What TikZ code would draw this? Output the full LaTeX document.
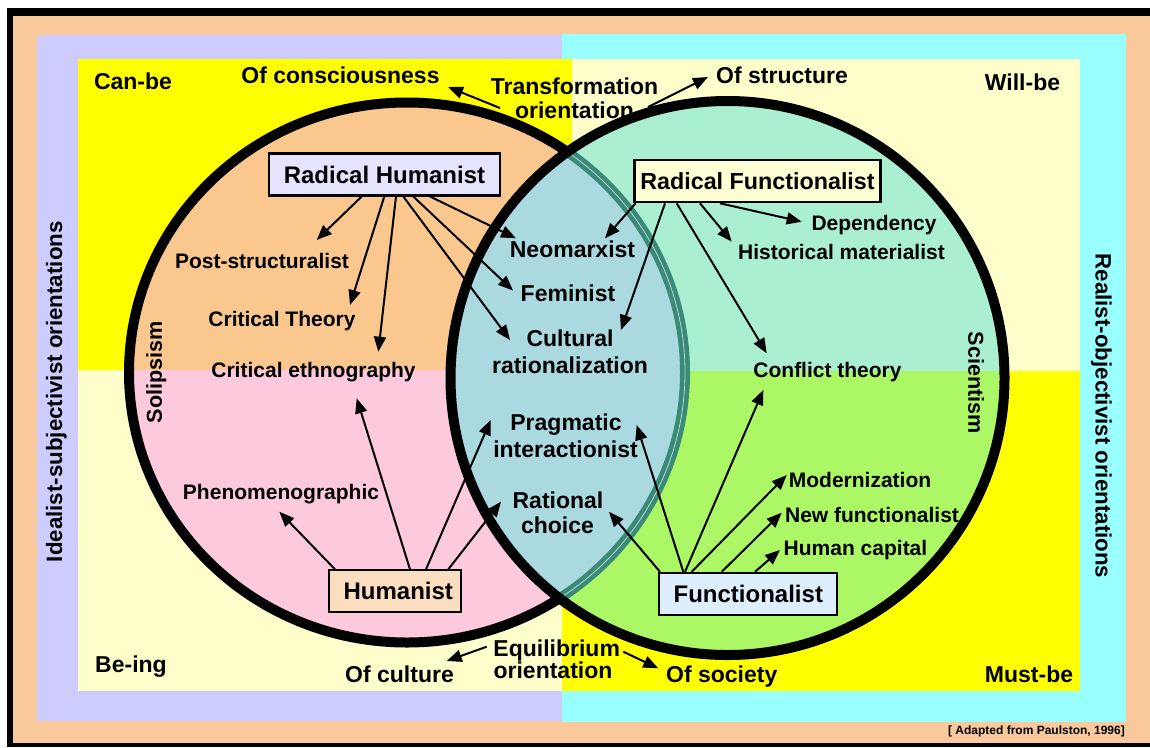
\documentclass[tikz,border=0pt]{standalone}
\usepackage{fontspec}
\setmainfont{Liberation Sans}
\usetikzlibrary{arrows.meta,calc}
\definecolor{peachbg}{HTML}{F9C99B}
\definecolor{lav}{HTML}{CCCCFF}
\definecolor{cyanbg}{HTML}{99FFFF}
\definecolor{yel}{HTML}{FFFF00}
\definecolor{cream}{HTML}{FFFFCC}
\definecolor{peachc}{HTML}{FAC88F}
\definecolor{pinkc}{HTML}{FDC9DD}
\definecolor{mintc}{HTML}{AAF0D0}
\definecolor{limec}{HTML}{ABF766}
\definecolor{overlapc}{HTML}{AAD9DF}
\definecolor{tealc}{HTML}{3A8A78}
\definecolor{rhfill}{HTML}{E6E3FF}
\definecolor{rffill}{HTML}{FFFFD6}
\definecolor{hfill}{HTML}{FBDDC0}
\definecolor{ffill}{HTML}{DDEEFF}
\begin{document}
\begin{tikzpicture}[x=1pt,y=-1pt,
  lbl/.style={font=\fontsize{21}{24}\selectfont\bfseries, inner sep=0pt, text height=15pt, text depth=0pt},
  lblc/.style={font=\fontsize{23}{26}\selectfont\bfseries, inner sep=0pt, text height=16.5pt, text depth=0pt},
  sidelbl/.style={font=\fontsize{22.3}{25}\selectfont\bfseries, inner sep=0pt, text height=16pt, text depth=0pt},
  vlbl/.style={font=\fontsize{21.6}{24}\selectfont\bfseries, inner sep=0pt, text height=15.5pt, text depth=0pt},
  boxnode/.style={draw, line width=2.2pt, inner sep=0pt, minimum height=42pt, font=\fontsize{24}{26}\selectfont\bfseries, text height=17.2pt, text depth=0pt},
  arr/.style={line width=2pt, -{Triangle[length=15pt,width=12pt]}},
  rim/.style={line width=10pt}]
\useasboundingbox (0,0) rectangle (1150,747);
% frame and background
\fill[black] (6.7,8.3) rectangle (1150,747);
\fill[peachbg] (13.3,16) rectangle (1150,742.5);
\fill[lav] (37,35) rectangle (562,721);
\fill[cyanbg] (562,34) rectangle (1126,722);
\fill[yel] (78,59) rectangle (572,370);
\fill[cream] (572,59) rectangle (1080,371);
\fill[cream] (78,370) rectangle (562,691);
\fill[yel] (562,371) rectangle (1080,691);
% circles
\coordinate (LC) at (407,372.5);
\coordinate (RC) at (727.5,378);
\begin{scope}
  \clip (0,0) rectangle (1150,370);
  \fill[peachc] (LC) ellipse [x radius=278pt, y radius=270pt];
\end{scope}
\begin{scope}
  \clip (0,370) rectangle (1150,747);
  \fill[pinkc] (LC) ellipse [x radius=278pt, y radius=270pt];
\end{scope}
\draw[rim] (LC) ellipse [x radius=278pt, y radius=270pt];
\begin{scope}
  \clip (0,0) rectangle (1150,371);
  \fill[mintc] (RC) circle [radius=277pt];
\end{scope}
\begin{scope}
  \clip (0,371) rectangle (1150,747);
  \fill[limec] (RC) circle [radius=277pt];
\end{scope}
\begin{scope}
  \clip (LC) ellipse [x radius=278pt, y radius=270pt];
  \fill[overlapc] (RC) circle [radius=277pt];
\end{scope}
\begin{scope}
  \clip (RC) circle [radius=277pt];
  \draw[rim, tealc] (LC) ellipse [x radius=278pt, y radius=270pt];
  \draw[line width=0.8pt, tealc!35!white] (LC) ellipse [x radius=278pt, y radius=270pt];
\end{scope}
\draw[rim] (RC) circle [radius=277pt];
% corner and orientation texts
\node[lblc] (canbe) at (133,81.5) {Can-be};
\node[lblc] (ofcons) at (340.5,75) {Of consciousness};
\node[lblc] (trans1) at (574.5,86.5) {Transformation};
\node[lblc] (trans2) at (574.5,110) {orientation};
\node[lblc] (ofstr) at (782,75) {Of structure};
\node[lblc] (willbe) at (1022.5,82) {Will-be};
\node[lblc] (being) at (131,664) {Be-ing};
\node[lblc] (ofcult) at (399.5,674) {Of culture};
\node[lblc] (eq1) at (556.7,648) {Equilibrium};
\node[lblc] (eq2) at (553,670) {orientation};
\node[lblc] (ofsoc) at (721.7,674.5) {Of society};
\node[lblc] (mustbe) at (1029,674) {Must-be};
\node[font=\fontsize{12}{14}\selectfont\bfseries, inner sep=0pt, anchor=east] (src) at (1125,731) {[ Adapted from Paulston, 1996]};
% side texts
\node[sidelbl, rotate=90] (ideal) at (54,391.7) {Idealist-subjectivist orientations};
\node[sidelbl, rotate=-90] (real) at (1103.5,416) {Realist-objectivist orientations};
\node[vlbl, rotate=90] (sol) at (154,372) {Solipsism};
\node[vlbl, rotate=-90] (sci) at (976,383) {Scientism};
% boxes
\node[boxnode, fill=rhfill, minimum width=231pt] (rh) at (384.5,174.5) {Radical Humanist};
\node[boxnode, fill=rffill, minimum width=246pt, font=\fontsize{23.3}{26}\selectfont\bfseries, text height=16.7pt] (rf) at (757.5,181.3) {Radical Functionalist};
\node[boxnode, fill=hfill, minimum width=132pt] (hum) at (395.3,591.3) {\hspace*{6pt}Humanist};
\node[boxnode, fill=ffill, minimum width=178pt] (fun) at (748.3,593.8) {Functionalist};
% labels
\node[lbl] (post) at (262,261) {Post-structuralist};
\node[lbl] (ctheory) at (282,319) {Critical Theory};
\node[lbl] (ceth) at (313.5,370) {Critical ethnography};
\node[lbl] (phen) at (281,492) {Phenomenographic};
\node[lblc] (neo) at (572.5,249) {Neomarxist};
\node[lblc] (fem) at (568,293.5) {Feminist};
\node[lblc] (cult1) at (570,338.5) {Cultural};
\node[lblc] (cult2) at (570,365) {rationalization};
\node[lblc] (prag1) at (566,422) {Pragmatic};
\node[lblc] (prag2) at (565.5,449) {interactionist};
\node[lblc] (rat1) at (558,500) {Rational};
\node[lblc] (rat2) at (557.5,525) {choice};
\node[lbl] (dep) at (874,223) {Dependency};
\node[lbl] (hist) at (841.5,251.5) {Historical materialist};
\node[lbl] (confl) at (827.5,370) {Conflict theory};
\node[lbl] (mod) at (860,480) {Modernization};
\node[lbl] (newf) at (872,515) {New functionalist};
\node[lbl] (hcap) at (855.5,548) {Human capital};
% arrow head points
\coordinate (hPost) at (316.7,240);
\coordinate (hCT) at (350,305);
\coordinate (hCE1) at (378.3,351.7);
\coordinate (hCult1) at (510,340);
\coordinate (hFem) at (513,290.5);
\coordinate (hNeo1) at (516,238.3);
\coordinate (hNeo2) at (605,238.3);
\coordinate (hCult2) at (621,330);
\coordinate (hConf1) at (766.7,353.3);
\coordinate (hHist) at (731.7,241.7);
\coordinate (hDep) at (801.7,221.7);
\coordinate (hPhen) at (279.3,511.7);
\coordinate (hCE2) at (356.7,398.3);
\coordinate (hPrag1) at (490.7,420);
\coordinate (hRat1) at (501,501.7);
\coordinate (hRat2) at (609,511.7);
\coordinate (hPrag2) at (636.7,425);
\coordinate (hConf2) at (763.3,390);
\coordinate (hMod) at (786.7,475);
\coordinate (hNewf) at (781.7,512.7);
\coordinate (hHcap) at (780,550);
\coordinate (hCons) at (448,87);
\coordinate (hStr) at (708,77);
\coordinate (hCultu) at (446.7,661);
\coordinate (hSoc) at (658.3,668.3);
% arrows from Radical Humanist
\draw[arr] ($(rh.center)+(-22.8,22)$) -- (hPost);
\draw[arr] ($(rh.center)+(-0.2,22)$) -- (hCT);
\draw[arr] ($(rh.center)+(11.5,22)$) -- (hCE1);
\draw[arr] ($(rh.center)+(18.8,22)$) -- (hCult1);
\draw[arr] ($(rh.center)+(28.8,22)$) -- (hFem);
\draw[arr] ($(rh.center)+(45.5,22)$) -- (hNeo1);
% arrows from Radical Functionalist
\draw[arr] ($(rf.center)+(-122,22)$) -- (hNeo2);
\draw[arr] ($(rf.center)+(-92.5,22)$) -- (hCult2);
\draw[arr] ($(rf.center)+(-80.8,22)$) -- (hConf1);
\draw[arr] ($(rf.center)+(-57.5,22)$) -- (hHist);
\draw[arr] ($(rf.center)+(-37.5,22)$) -- (hDep);
% arrows from Humanist
\draw[arr] ($(hum.center)+(-60.3,-22)$) -- (hPhen);
\draw[arr] ($(hum.center)+(14.7,-22)$) -- (hCE2);
\draw[arr] ($(hum.center)+(30.7,-22)$) -- (hPrag1);
\draw[arr] ($(hum.center)+(53,-22)$) -- (hRat1);
% arrows from Functionalist
\draw[arr] ($(fun.center)+(-88.3,-22)$) -- (hRat2);
\draw[arr] ($(fun.center)+(-65,-22)$) -- (hPrag2);
\draw[arr] ($(fun.center)+(-63.3,-22)$) -- (hConf2);
\draw[arr] ($(fun.center)+(-56.6,-22)$) -- (hMod);
\draw[arr] ($(fun.center)+(-26.6,-22)$) -- (hNewf);
\draw[arr] ($(fun.center)+(6.7,-22)$) -- (hHcap);
% orientation arrows
\draw[arr] ($(trans2.center)+(-74.5,-2)$) -- (hCons);
\draw[arr] ($(trans2.center)+(73.5,-3)$) -- (hStr);
\draw[arr] ($(eq1.center)+(-70,-1.3)$) -- (hCultu);
\draw[arr] ($(eq1.center)+(66.6,3.7)$) -- (hSoc);
\end{tikzpicture}
\end{document}
